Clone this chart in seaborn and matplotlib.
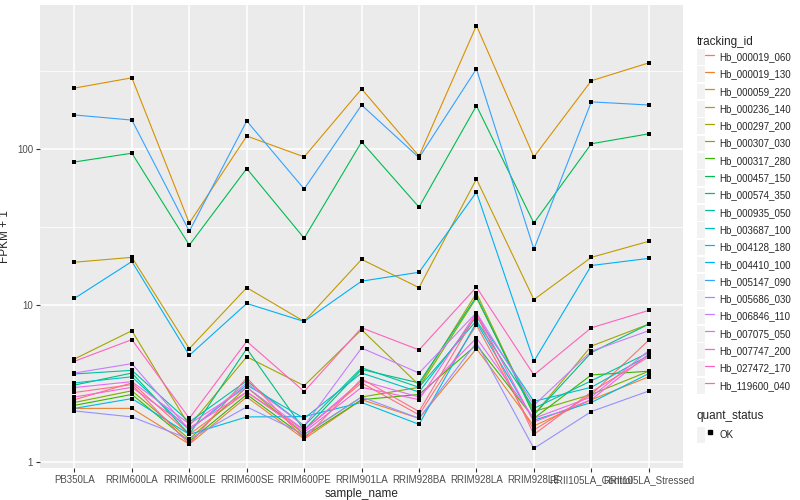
import matplotlib
matplotlib.use('Agg')
import matplotlib.pyplot as plt
from matplotlib.lines import Line2D
from matplotlib.patches import Patch
from matplotlib.legend_handler import HandlerTuple
import numpy as np
import pandas as pd
import seaborn as sns

# samples on x
samples = ['PB350LA', 'RRIM600LA', 'RRIM600LE', 'RRIM600SE', 'RRIM600PE', 'RRIM901LA',
           'RRIM928BA', 'RRIM928LA', 'RRIM928LE', 'RRII105LA_Control', 'RRII105LA_Stressed']

tracking_ids = ['Hb_000019_060', 'Hb_000019_130', 'Hb_000059_220', 'Hb_000236_140', 'Hb_000297_200',
                'Hb_000307_030', 'Hb_000317_280', 'Hb_000457_150', 'Hb_000574_350', 'Hb_000935_050',
                'Hb_003687_100', 'Hb_004128_180', 'Hb_004410_100', 'Hb_005147_090', 'Hb_005686_030',
                'Hb_006846_110', 'Hb_007075_050', 'Hb_007747_200', 'Hb_027472_170', 'Hb_119600_040']

# FPKM + 1 values
hb_000019_060 = [2.5, 3.2, 1.5, 2.8, 1.6, 3.2, 2.0, 7.5, 1.6, 2.7, 6.0]
hb_000019_130 = [2.2, 2.2, 1.3, 2.6, 1.4, 2.5, 1.9, 5.3, 1.7, 2.5, 3.5]
hb_000059_220 = [245, 285, 33.6, 121, 89, 242, 90, 615, 89, 273, 355]
hb_000236_140 = [18.9, 20.3, 5.3, 13.0, 7.9, 19.7, 13.0, 64.3, 10.9, 20.3, 25.7]
hb_000297_200 = [4.55, 6.9, 1.7, 4.7, 3.07, 7.0, 3.1, 12.0, 2.0, 5.5, 7.6]
hb_000307_030 = [2.4, 2.85, 1.4, 3.0, 1.5, 2.6, 3.0, 11.2, 2.1, 2.7, 3.8]
hb_000317_280 = [2.3, 2.7, 1.35, 2.7, 1.45, 2.5, 2.7, 5.6, 1.9, 3.6, 3.8]
hb_000457_150 = [82.6, 94, 24.3, 75, 26.9, 111, 42.5, 189, 33.6, 108, 125]
hb_000574_350 = [3.1, 3.7, 1.5, 5.3, 1.6, 3.9, 3.2, 11.4, 2.0, 5.0, 7.6]
hb_000935_050 = [3.65, 3.85, 1.8, 3.3, 1.7, 4.0, 3.0, 8.0, 2.2, 3.3, 5.0]
hb_003687_100 = [3.2, 3.5, 1.6, 3.1, 1.9, 3.7, 2.8, 8.5, 2.44, 3.0, 4.8]
hb_004128_180 = [2.2, 2.54, 1.5, 1.94, 1.95, 2.4, 1.74, 7.8, 1.85, 2.4, 3.67]
hb_004410_100 = [11.1, 19.1, 4.8, 10.3, 7.9, 14.3, 16.3, 53, 4.4, 18.0, 20.0]
hb_005147_090 = [165, 153, 29.8, 151, 55.5, 191, 88, 325, 22.9, 200, 191]
hb_005686_030 = [2.12, 1.94, 1.4, 2.25, 1.5, 2.6, 1.9, 5.8, 1.22, 2.1, 2.84]
hb_006846_110 = [3.7, 4.25, 1.6, 3.2, 1.7, 5.35, 3.7, 9.0, 2.3, 5.1, 6.9]
hb_007075_050 = [2.99, 3.26, 1.75, 3.0, 1.6, 3.3, 2.6, 6.2, 1.9, 2.6, 5.15]
hb_007747_200 = [2.6, 3.0, 1.65, 2.8, 1.55, 3.0, 2.5, 9.0, 1.8, 2.5, 4.9]
hb_027472_170 = [4.4, 6.05, 1.9, 5.9, 2.82, 7.2, 5.2, 13.1, 3.6, 7.2, 9.3]
hb_119600_040 = [2.78, 3.12, 1.3, 3.45, 1.4, 3.4, 2.1, 8.8, 1.5, 2.8, 4.7]

series = [hb_000019_060, hb_000019_130, hb_000059_220, hb_000236_140, hb_000297_200,
          hb_000307_030, hb_000317_280, hb_000457_150, hb_000574_350, hb_000935_050,
          hb_003687_100, hb_004128_180, hb_004410_100, hb_005147_090, hb_005686_030,
          hb_006846_110, hb_007075_050, hb_007747_200, hb_027472_170, hb_119600_040]

# ggplot hue palette, 20 levels
hue_colors = ['#F8766D', '#EA8331', '#D89000', '#C09B00', '#A3A500', '#7CAE00', '#39B600',
              '#00BB4E', '#00BF7D', '#00C1A3', '#00BFC4', '#00BAE0', '#00B0F6', '#35A2FF',
              '#9590FF', '#C77CFF', '#E76BF3', '#FA62DB', '#FF62BC', '#FF6C91']

rows = []
for tid, vals in zip(tracking_ids, series):
    for s, v in zip(samples, vals):
        rows.append({'tracking_id': tid, 'sample_name': s, 'fpkm1': v})
df = pd.DataFrame(rows)
df['x'] = df['sample_name'].map({s: i for i, s in enumerate(samples)})

sns.set_theme(style='darkgrid')
plt.rcParams['font.family'] = ['Liberation Sans', 'DejaVu Sans']

fig = plt.figure(figsize=(8, 5), dpi=100)
ax = fig.add_axes([0.05, 0.064, 0.804, 0.926])
ax.set_facecolor('#EBEBEB')

sns.lineplot(data=df, x='x', y='fpkm1', hue='tracking_id', hue_order=tracking_ids,
             palette=hue_colors, linewidth=0.8, legend=False, ax=ax, estimator=None, sort=False)
sns.scatterplot(data=df, x='x', y='fpkm1', color='black', marker='s', s=10,
                linewidth=0, legend=False, ax=ax, zorder=5)

ax.set_yscale('log')
ax.set_ylim(0.915, 832)
ax.set_xlim(-0.6, len(samples) - 1 + 0.6)
ax.set_xticks(range(len(samples)))
ax.set_xticklabels(samples)
ax.set_yticks([1, 10, 100])
ax.set_yticklabels(['1', '10', '100'])
ax.set_yticks([10 ** 0.5, 10 ** 1.5, 10 ** 2.5], minor=True)
ax.grid(True, which='major', color='white', linewidth=1.1)
ax.grid(True, which='minor', axis='y', color='white', linewidth=0.55)
ax.grid(False, which='minor', axis='x')
ax.tick_params(axis='both', which='major', length=3, width=0.8, color='#333333',
               labelsize=7, labelcolor='#4D4D4D', pad=2, bottom=True, left=True)
ax.tick_params(axis='y', which='minor', length=0, left=False)
for sp in ax.spines.values():
    sp.set_visible(False)
ax.set_xlabel('sample_name', fontsize=8.5, labelpad=2)
ax.set_ylabel('FPKM + 1', fontsize=8.5)
ax.yaxis.set_label_coords(-0.045, 0.5)

# legends, grey key boxes like ggplot
def key(line):
    return (Patch(facecolor='#F2F2F2', edgecolor='none'), line)

id_handles = [key(Line2D([0], [0], color=c, linewidth=0.9)) for c in hue_colors]
leg1 = fig.legend(id_handles, tracking_ids, title='tracking_id', loc='upper left',
                  bbox_to_anchor=(0.871, 0.929), frameon=False, fontsize=7,
                  title_fontsize=8.5, handlelength=1.75, handleheight=2.1, labelspacing=0.17,
                  handletextpad=0.55, borderaxespad=0, borderpad=0,
                  handler_map={tuple: HandlerTuple(ndivide=None)})
leg1._legend_box.align = 'left'
ok_handle = [key(Line2D([0], [0], color='black', marker='s', markersize=3, linestyle='none'))]
leg2 = fig.legend(ok_handle, ['OK'], title='quant_status', loc='upper left',
                  bbox_to_anchor=(0.871, 0.18), frameon=False, fontsize=7,
                  title_fontsize=8.5, handlelength=1.75, handleheight=2.1,
                  handletextpad=0.55, borderaxespad=0, borderpad=0,
                  handler_map={tuple: HandlerTuple(ndivide=None)})
leg2._legend_box.align = 'left'

fig.savefig('out.png', dpi=100, facecolor='white')
